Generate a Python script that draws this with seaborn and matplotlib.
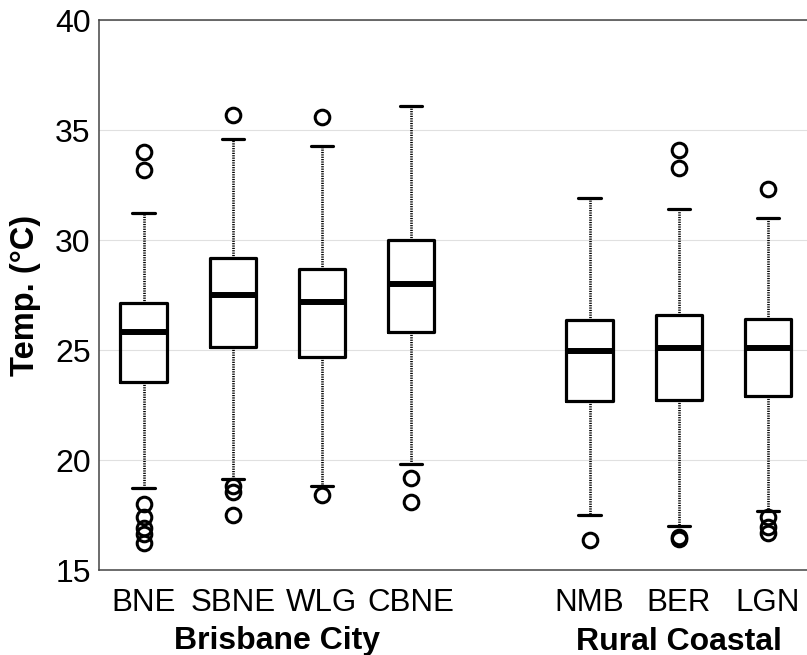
import matplotlib
matplotlib.use("Agg")
import matplotlib.pyplot as plt
import matplotlib.transforms as mtransforms
import seaborn as sns

# ---- data ----
stations = ["BNE", "SBNE", "WLG", "CBNE", "NMB", "BER", "LGN"]
groups = ["Brisbane City", "Brisbane City", "Brisbane City", "Brisbane City",
          "Rural Coastal", "Rural Coastal", "Rural Coastal"]
positions = [1, 2, 3, 4, 6, 7, 8]
whis_low = [18.73, 19.14, 18.80, 19.80, 17.50, 17.00, 17.70]
q1 = [23.55, 25.14, 24.68, 25.82, 22.68, 22.73, 22.90]
median = [25.82, 27.50, 27.18, 28.00, 24.97, 25.08, 25.08]
q3 = [27.14, 29.20, 28.68, 30.00, 26.36, 26.60, 26.41]
whis_high = [31.25, 34.60, 34.27, 36.10, 31.90, 31.40, 31.00]
outliers = [
    [34.0, 33.2, 18.0, 17.4, 16.9, 16.65, 16.25],
    [35.7, 18.8, 18.55, 17.5],
    [35.6, 18.4],
    [19.2, 18.1],
    [16.36],
    [34.1, 33.27, 16.5, 16.4],
    [32.3, 17.4, 16.95, 16.7],
]
y_ticks = [15, 20, 25, 30, 35, 40]

# ---- style ----
sns.set_style("white")
plt.rcParams['font.family'] = ['Liberation Sans', 'DejaVu Sans']
plt.rcParams['text.color'] = 'black'
plt.rcParams['axes.labelcolor'] = 'black'

fig = plt.figure(figsize=(8.07, 6.55), dpi=100)
ax = fig.add_axes([99 / 807, 85 / 655, (812.5 - 99) / 807, 550 / 655])

stats = []
for i, name in enumerate(stations):
    stats.append(dict(label=name, med=median[i], q1=q1[i], q3=q3[i],
                      whislo=whis_low[i], whishi=whis_high[i],
                      fliers=outliers[i]))

ax.bxp(stats, positions=positions, widths=0.52, capwidths=0.25,
       boxprops=dict(color='black', linewidth=2.3),
       medianprops=dict(color='black', linewidth=4.3, solid_capstyle='butt'),
       whiskerprops=dict(color='black', linewidth=1.9, linestyle=(0, (0.45, 0.45))),
       capprops=dict(color='black', linewidth=2.3),
       flierprops=dict(marker='o', markerfacecolor='none', markeredgecolor='black',
                       markersize=10.5, markeredgewidth=2.2))

ax.set_xlim(0.5, 8.5)
ax.set_ylim(15, 40)
ax.set_yticks(y_ticks)
ax.set_xticks(positions)
ax.set_xticklabels(stations)
ax.yaxis.grid(True, color='#e0e0e0', linewidth=0.8)
ax.xaxis.grid(False)
ax.set_axisbelow(True)
ax.tick_params(axis='y', length=0, pad=6, labelsize=23, colors='black')
ax.tick_params(axis='x', length=0, pad=13, labelsize=22.5, colors='black')

for side in ['left', 'top', 'bottom']:
    ax.spines[side].set_color('#444444')
    ax.spines[side].set_linewidth(1.1)
ax.spines['right'].set_visible(False)

ax.set_ylabel("Temp. (°C)", fontsize=23.5, fontweight='bold')
ax.yaxis.set_label_coords(-0.081, 0.5)

# group labels under the station labels
trans = mtransforms.blended_transform_factory(ax.transData, ax.transAxes)
for g in dict.fromkeys(groups):
    xs = [p for p, gg in zip(positions, groups) if gg == g]
    ax.text(sum(xs) / len(xs), -0.13, g, transform=trans, ha='center', va='center',
            fontsize=23, fontweight='bold')

fig.savefig("out.png", dpi=100)
